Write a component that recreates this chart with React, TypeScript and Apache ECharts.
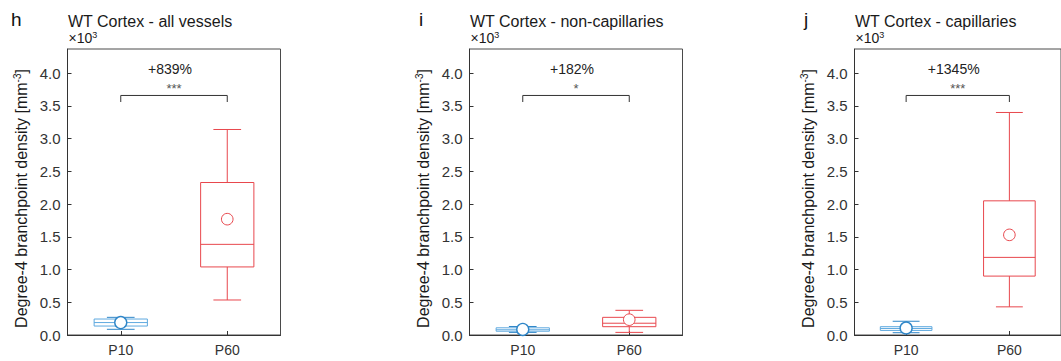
import React, { useEffect, useRef } from "react";
import * as echarts from "echarts";

// ---------- data ----------
const categories = ["P10", "P60"];
const panelLetters = ["h", "i", "j"];
const panelTitles = [
  "WT Cortex - all vessels",
  "WT Cortex - non-capillaries",
  "WT Cortex - capillaries",
];
const percentLabels = ["+839%", "+182%", "+1345%"];
const significance = ["***", "*", "***"];

// [min, Q1, median, Q3, max, mean]  (×10³ mm⁻³)
const allVesselsP10 = [0.087, 0.137, 0.19, 0.244, 0.27, 0.19];
const allVesselsP60 = [0.535, 1.04, 1.385, 2.33, 3.14, 1.77];
const nonCapP10 = [0.04, 0.058, 0.08, 0.11, 0.13, 0.085];
const nonCapP60 = [0.04, 0.127, 0.18, 0.27, 0.377, 0.234];
const capP10 = [0.035, 0.07, 0.1, 0.127, 0.21, 0.107];
const capP60 = [0.43, 0.9, 1.186, 2.05, 3.4, 1.53];

const yTickLabels = ["0.0", "0.5", "1.0", "1.5", "2.0", "2.5", "3.0", "3.5", "4.0"];
const yMin = 0;
const yMax = 4.37;
const yInterval = 0.5;

// annotation levels (data units)
const bracketLevel = 3.66;
const bracketDrop = 0.1;
const percentLevel = 4.06;
const starsLevel = 3.76;

const panels = [
  [allVesselsP10, allVesselsP60],
  [nonCapP10, nonCapP60],
  [capP10, capP60],
];

// ---------- layout / style ----------
const FONT = "Liberation Sans, Arial, Helvetica, sans-serif";
const gridLefts = [67.5, 469.5, 854.5];
const gridTop = 49;
const gridWidth = 213;
const gridHeight = 286;
const letterX = [11, 419, 804];
const yNameX = [21.5, 423, 808];
const RED = "#e8474d";
const BLUE = "#2f86c8";
const BLUE_LIGHT = "#5ea9df";

export default function App() {
  const ref = useRef<HTMLDivElement>(null);

  useEffect(() => {
    if (!ref.current) return;
    const chart = echarts.init(ref.current, null, { renderer: "svg" });

    const grids: any[] = [];
    const xAxes: any[] = [];
    const yAxes: any[] = [];
    const series: any[] = [];
    const graphics: any[] = [];

    panels.forEach((pair, pi) => {
      grids.push({
        left: gridLefts[pi],
        top: gridTop,
        width: gridWidth,
        height: gridHeight,
        show: true,
        borderColor: "#4a4a4a",
        borderWidth: 1,
        backgroundColor: "transparent",
      });
      xAxes.push({
        type: "category",
        gridIndex: pi,
        data: categories,
        boundaryGap: true,
        axisLine: { show: true, lineStyle: { color: "#333", width: 1 } },
        axisTick: {
          show: true,
          inside: true,
          length: 4,
          alignWithLabel: true,
          lineStyle: { color: "#333" },
        },
        axisLabel: { color: "#333", fontSize: 14, fontFamily: FONT, margin: 8 },
        splitLine: { show: false },
      });
      yAxes.push({
        type: "value",
        gridIndex: pi,
        min: yMin,
        max: yMax,
        interval: yInterval,
        axisLine: { show: true, lineStyle: { color: "#333", width: 1 } },
        axisTick: { show: true, inside: true, length: 4, lineStyle: { color: "#333" } },
        axisLabel: {
          color: "#333",
          fontSize: 15,
          fontFamily: FONT,
          margin: 7,
          showMaxLabel: false,
          formatter: (v: number) => {
            const i = Math.round(v / yInterval);
            return Math.abs(i * yInterval - v) < 1e-6 && i < yTickLabels.length ? yTickLabels[i] : "";
          },
        },
        splitLine: { show: false },
      });

      // box plots
      series.push({
        type: "custom",
        xAxisIndex: pi,
        yAxisIndex: pi,
        data: pair.map((vals, ci) => [ci, ...vals]),
        encode: { x: 0, y: [1, 2, 3, 4, 5, 6] },
        renderItem: (params: any, api: any) => {
          const ci = api.value(0);
          const lo = api.coord([ci, api.value(1)]);
          const q1 = api.coord([ci, api.value(2)]);
          const med = api.coord([ci, api.value(3)]);
          const q3 = api.coord([ci, api.value(4)]);
          const hi = api.coord([ci, api.value(5)]);
          const mean = api.coord([ci, api.value(6)]);
          const band = api.size([1, 0])[0];
          const x = lo[0];
          const bw = band * 0.5;
          const cw = band * 0.26;
          const color = ci === 0 ? BLUE : RED;
          const boxColor = ci === 0 ? BLUE_LIGHT : RED;
          const ln = (x1: number, y1: number, x2: number, y2: number, c: string) => ({
            type: "line",
            shape: { x1, y1, x2, y2 },
            style: { stroke: c, lineWidth: 1 },
          });
          return {
            type: "group",
            children: [
              ln(x, hi[1], x, q3[1], color),
              ln(x, q1[1], x, lo[1], color),
              ln(x - cw / 2, hi[1], x + cw / 2, hi[1], color),
              ln(x - cw / 2, lo[1], x + cw / 2, lo[1], color),
              {
                type: "rect",
                shape: { x: x - bw / 2, y: q3[1], width: bw, height: q1[1] - q3[1] },
                style: { fill: "none", stroke: boxColor, lineWidth: 1 },
              },
              ln(x - bw / 2, med[1], x + bw / 2, med[1], boxColor),
              {
                type: "circle",
                shape: { cx: x, cy: mean[1], r: ci === 0 ? 6 : 5.8 },
                style: { fill: "#fff", stroke: color, lineWidth: ci === 0 ? 1.4 : 1 },
              },
            ],
          };
        },
        z: 3,
      });

      // significance bracket + labels
      series.push({
        type: "custom",
        xAxisIndex: pi,
        yAxisIndex: pi,
        data: [[0, bracketLevel]],
        encode: { x: 0, y: 1 },
        renderItem: (params: any, api: any) => {
          const a = api.coord([0, bracketLevel]);
          const b = api.coord([1, bracketLevel]);
          const d = api.coord([0, bracketLevel - bracketDrop]);
          const p = api.coord([0, percentLevel]);
          const s = api.coord([0, starsLevel]);
          const mid = (a[0] + b[0]) / 2;
          return {
            type: "group",
            children: [
              {
                type: "polyline",
                shape: {
                  points: [
                    [a[0], d[1]],
                    [a[0], a[1]],
                    [b[0], a[1]],
                    [b[0], d[1]],
                  ],
                },
                style: { stroke: "#333", lineWidth: 1, fill: "none" },
              },
              {
                type: "text",
                x: mid - 4,
                y: p[1],
                style: {
                  text: percentLabels[pi],
                  fill: "#222",
                  fontSize: 14,
                  fontFamily: FONT,
                  align: "center",
                  verticalAlign: "middle",
                },
              },
              {
                type: "text",
                x: mid,
                y: s[1],
                style: {
                  text: significance[pi],
                  fill: "#555",
                  fontSize: 13,
                  fontFamily: FONT,
                  align: "center",
                  verticalAlign: "middle",
                },
              },
            ],
          };
        },
        z: 4,
      });

      // panel letter, title, multiplier, y name
      graphics.push({
        type: "text",
        x: letterX[pi],
        y: 19.5,
        style: {
          text: panelLetters[pi],
          fill: "#111",
          fontSize: 19,
          fontFamily: FONT,
          align: "left",
          verticalAlign: "middle",
        },
      });
      graphics.push({
        type: "text",
        x: gridLefts[pi] + 0.5,
        y: 21,
        style: {
          text: panelTitles[pi],
          fill: "#1a1a1a",
          fontSize: 16,
          fontFamily: FONT,
          align: "left",
          verticalAlign: "middle",
        },
      });
      graphics.push({
        type: "text",
        x: gridLefts[pi] + 1,
        y: 37.5,
        style: {
          text: "×10{sup|3}",
          fill: "#1a1a1a",
          fontSize: 14,
          fontFamily: FONT,
          lineHeight: 15,
          align: "left",
          verticalAlign: "middle",
          rich: {
            sup: { fontSize: 9, lineHeight: 9, verticalAlign: "top", fill: "#1a1a1a", fontFamily: FONT },
          },
        },
      });
      graphics.push({
        type: "text",
        x: yNameX[pi],
        y: 198.5,
        rotation: Math.PI / 2,
        style: {
          text: "Degree-4 branchpoint density [mm{sup|-3}]",
          fill: "#1a1a1a",
          fontSize: 16,
          fontFamily: FONT,
          lineHeight: 18,
          align: "center",
          verticalAlign: "middle",
          rich: {
            sup: { fontSize: 10, lineHeight: 10, verticalAlign: "top", fill: "#1a1a1a", fontFamily: FONT },
          },
        },
      });
    });

    chart.setOption({
      animation: false,
      backgroundColor: "#ffffff",
      grid: grids,
      xAxis: xAxes,
      yAxis: yAxes,
      series,
      graphic: graphics,
    });

    return () => chart.dispose();
  }, []);

  return (
    <div
      ref={ref}
      style={{ position: "absolute", left: 0, top: 0, width: 1061, height: 361 }}
    />
  );
}
